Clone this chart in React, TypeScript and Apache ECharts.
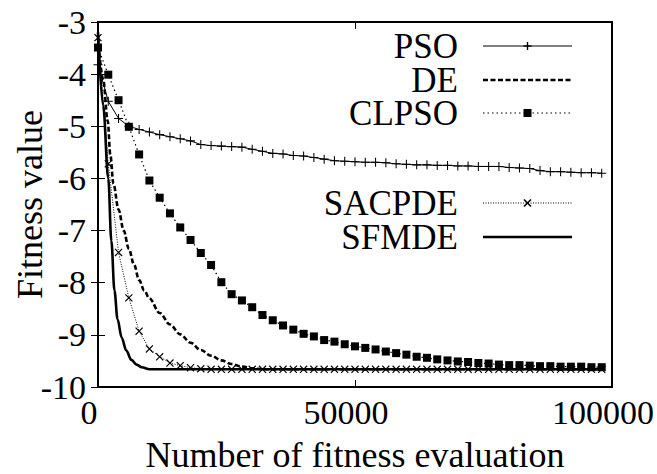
import React, { useEffect, useRef } from "react";
import * as echarts from "echarts";

const FONT = "Liberation Serif";

// Sampled evaluation counts for the marked series
const evaluations = [
  0, 2000, 4000, 6000, 8000, 10000, 12000, 14000, 16000, 18000,
  20000, 22000, 24000, 26000, 28000, 30000, 32000, 34000, 36000, 38000,
  40000, 42000, 44000, 46000, 48000, 50000, 52000, 54000, 56000, 58000,
  60000, 62000, 64000, 66000, 68000, 70000, 72000, 74000, 76000, 78000,
  80000, 82000, 84000, 86000, 88000, 90000, 92000, 94000, 96000, 98000,
];

const psoFitness = [
  -3.82, -4.52, -4.85, -5.0, -5.06, -5.11, -5.16, -5.2, -5.24, -5.28,
  -5.35, -5.37, -5.38, -5.39, -5.4, -5.44, -5.48, -5.52, -5.53, -5.56,
  -5.57, -5.6, -5.63, -5.66, -5.67, -5.68, -5.69, -5.69, -5.7, -5.72,
  -5.73, -5.74, -5.74, -5.75, -5.75, -5.76, -5.76, -5.77, -5.77, -5.77,
  -5.79, -5.8, -5.81, -5.85, -5.87, -5.87, -5.88, -5.89, -5.89, -5.9,
];

const clpsoFitness = [
  -3.49, -4.01, -4.5, -5.01, -5.54, -6.04, -6.37, -6.67, -6.94, -7.18,
  -7.43, -7.66, -7.99, -8.22, -8.34, -8.47, -8.62, -8.72, -8.82, -8.9,
  -8.98, -9.03, -9.1, -9.13, -9.18, -9.22, -9.25, -9.28, -9.32, -9.35,
  -9.38, -9.42, -9.44, -9.47, -9.49, -9.51, -9.52, -9.54, -9.55, -9.57,
  -9.58, -9.58, -9.59, -9.6, -9.6, -9.61, -9.61, -9.61, -9.62, -9.62,
];

const sacpdeFitness = [
  -3.3, -5.72, -7.42, -8.29, -8.93, -9.27, -9.42, -9.54, -9.59, -9.63,
  -9.65, -9.66, -9.66, -9.66, -9.66, -9.66, -9.66, -9.66, -9.66, -9.66,
  -9.66, -9.66, -9.66, -9.66, -9.66, -9.66, -9.66, -9.66, -9.66, -9.66,
  -9.66, -9.66, -9.66, -9.66, -9.66, -9.66, -9.66, -9.66, -9.66, -9.66,
  -9.66, -9.66, -9.66, -9.66, -9.66, -9.66, -9.66, -9.66, -9.66, -9.66,
];

// DE and SFMDE are plain curves, sampled more densely where they fall
const deEvals = [
  0, 1000, 1900, 2400, 3000, 4000, 5000, 6000, 7000, 8000, 9000, 10000,
  12000, 14000, 16000, 18000, 20000, 22000, 24000, 26000, 28000, 30000,
  32000, 98000,
];
const deFitness = [
  -3.3, -4.1, -4.9, -5.55, -6.1, -6.6, -7.0, -7.35, -7.65, -7.95, -8.15, -8.3,
  -8.58, -8.8, -8.99, -9.15, -9.29, -9.4, -9.49, -9.56, -9.61, -9.64,
  -9.66, -9.66,
];

const sfmdeEvals = [
  0, 1000, 2000, 2600, 3200, 3800, 4600, 5500, 6500, 7500, 8500, 10000, 98000,
];
const sfmdeFitness = [
  -3.2, -4.6, -6.0, -7.2, -8.15, -8.7, -9.05, -9.3, -9.48, -9.57, -9.62, -9.66,
  -9.66,
];

const PLUS = "path://M5.3,0H6.7V5.3H12V6.7H6.7V12H5.3V6.7H0V5.3H5.3Z";

const pairs = (xs: number[], ys: number[]) => xs.map((x, i) => [x, ys[i]]);

// Key block on the right: label and row centre
const legendNames = ["PSO", "DE", "CLPSO", "SACPDE", "SFMDE"];
const legendRows = [46, 80, 113, 203, 237];

export default function App() {
  const ref = useRef<HTMLDivElement>(null);

  useEffect(() => {
    if (!ref.current) return;
    const chart = echarts.init(ref.current, undefined, { renderer: "svg" });

    const textRight = 458;
    const lineX1 = 483;
    const lineX2 = 572;
    const markX = (lineX1 + lineX2) / 2;

    const lineDashes: (number[] | null)[] = [null, [5, 2.5], [1.5, 3], [1, 1.5], null];
    const lineWidths = [1, 2.6, 1.2, 1, 2.6];

    const legendGraphics: any[] = [];
    legendNames.forEach((name, i) => {
      const y = legendRows[i];
      legendGraphics.push({
        type: "text",
        x: textRight,
        y,
        style: {
          text: name,
          fontFamily: FONT,
          fontSize: 35,
          lineHeight: 26,
          fill: "#000",
          align: "right",
          verticalAlign: "middle",
          textAlign: "right",
          textVerticalAlign: "middle",
        },
      });
      legendGraphics.push({
        type: "line",
        shape: { x1: lineX1, y1: y, x2: lineX2, y2: y },
        style: {
          stroke: "#000",
          lineWidth: lineWidths[i],
          lineDash: lineDashes[i] || undefined,
        },
      });
    });
    // markers on the key samples
    legendGraphics.push(
      { type: "line", shape: { x1: markX - 4, y1: legendRows[0], x2: markX + 4, y2: legendRows[0] }, style: { stroke: "#000", lineWidth: 1.4 } },
      { type: "line", shape: { x1: markX, y1: legendRows[0] - 4, x2: markX, y2: legendRows[0] + 4 }, style: { stroke: "#000", lineWidth: 1.4 } },
      { type: "rect", shape: { x: markX - 4, y: legendRows[2] - 4, width: 8, height: 8 }, style: { fill: "#000" } },
      { type: "line", shape: { x1: markX - 3.5, y1: legendRows[3] - 3.5, x2: markX + 3.5, y2: legendRows[3] + 3.5 }, style: { stroke: "#000", lineWidth: 1.6 } },
      { type: "line", shape: { x1: markX - 3.5, y1: legendRows[3] + 3.5, x2: markX + 3.5, y2: legendRows[3] - 3.5 }, style: { stroke: "#000", lineWidth: 1.6 } }
    );

    const tickStyle = { color: "#000", width: 1 };

    chart.setOption({
      animation: false,
      backgroundColor: "#fff",
      grid: {
        left: 98,
        right: 45,
        top: 22,
        bottom: 87,
        outerBoundsMode: "none",
        containLabel: false,
        show: true,
        borderColor: "#000",
        borderWidth: 2,
        backgroundColor: "transparent",
      },
      xAxis: [
        {
          type: "value",
          position: "bottom",
          min: 0,
          max: 100000,
          interval: 50000,
          axisLine: { show: false },
          splitLine: { show: false },
          axisTick: { show: true, inside: true, length: 7, lineStyle: tickStyle },
          axisLabel: {
            margin: 8,
            fontFamily: FONT,
            fontSize: 34,
            color: "#000",
            padding: [0, 18, 0, 0],
            formatter: (v: number) => String(v),
          },
          name: "Number of fitness evaluation",
          nameLocation: "middle",
          nameGap: 50,
          nameMoveOverlap: false,
          nameTextStyle: { fontFamily: FONT, fontSize: 36, color: "#000" },
        },
        {
          type: "value",
          position: "top",
          min: 0,
          max: 100000,
          interval: 50000,
          axisLine: { show: false },
          splitLine: { show: false },
          axisTick: { show: true, inside: true, length: 7, lineStyle: tickStyle },
          axisLabel: { show: false },
        },
      ],
      yAxis: [
        {
          type: "value",
          position: "left",
          min: -10,
          max: -3,
          interval: 1,
          axisLine: { show: false },
          splitLine: { show: false },
          axisTick: { show: true, inside: true, length: 7, lineStyle: tickStyle },
          axisLabel: {
            margin: 12,
            fontFamily: FONT,
            fontSize: 34,
            color: "#000",
            padding: [9, 0, 0, 0],
            formatter: (v: number) => String(v),
          },
          name: "Fitness value",
          nameLocation: "middle",
          nameGap: 50,
          nameMoveOverlap: false,
          nameTextStyle: { fontFamily: FONT, fontSize: 36, color: "#000" },
        },
        {
          type: "value",
          position: "right",
          min: -10,
          max: -3,
          interval: 1,
          axisLine: { show: false },
          splitLine: { show: false },
          axisTick: { show: true, inside: true, length: 7, lineStyle: tickStyle },
          axisLabel: { show: false },
        },
      ],
      series: [
        {
          name: "PSO",
          type: "line",
          silent: true,
          data: pairs(evaluations, psoFitness),
          symbol: PLUS,
          symbolSize: 9,
          showAllSymbol: true,
          itemStyle: { color: "#000" },
          lineStyle: { color: "#000", width: 1 },
        },
        {
          name: "DE",
          type: "line",
          silent: true,
          data: pairs(deEvals, deFitness),
          showSymbol: false,
          smooth: 0.35,
          smoothMonotone: "x",
          lineStyle: { color: "#000", width: 2.6, type: [5, 2.5] },
        },
        {
          name: "CLPSO",
          type: "line",
          silent: true,
          data: pairs(evaluations, clpsoFitness),
          symbol: "rect",
          symbolSize: 8,
          showAllSymbol: true,
          itemStyle: { color: "#000" },
          lineStyle: { color: "#000", width: 1.2, type: [1.5, 3] },
        },
        {
          name: "SACPDE",
          type: "line",
          silent: true,
          data: pairs(evaluations, sacpdeFitness),
          symbol: PLUS,
          symbolRotate: 45,
          symbolSize: 10,
          showAllSymbol: true,
          itemStyle: { color: "#000" },
          lineStyle: { color: "#000", width: 1, type: [1, 1.5] },
        },
        {
          name: "SFMDE",
          type: "line",
          silent: true,
          data: pairs(sfmdeEvals, sfmdeFitness),
          showSymbol: false,
          smooth: 0.35,
          smoothMonotone: "x",
          lineStyle: { color: "#000", width: 2.6 },
        },
      ],
      graphic: legendGraphics,
    });

    return () => chart.dispose();
  }, []);

  return (
    <div
      ref={ref}
      style={{ position: "fixed", left: 0, top: 0, width: 657, height: 474, background: "#fff" }}
    />
  );
}
